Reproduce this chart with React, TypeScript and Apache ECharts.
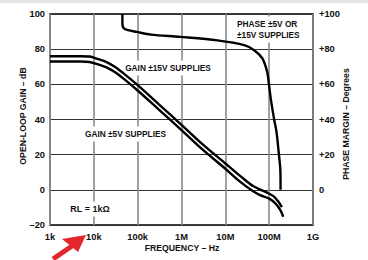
import React, { useEffect, useRef } from "react";
import * as echarts from "echarts";

// Frequency (Hz) and open-loop gain (dB), ±15V supplies
const gain15Freq = [1e3, 5e3, 8e3, 12e3, 20e3, 30e3, 50e3, 1e5, 3e5, 1e6, 3e6, 1e7, 2.2e7, 4.4e7, 8.9e7, 1.25e8, 1.6e8, 1.95e8];
const gain15 = [76, 76, 75.8, 74.5, 72.5, 70, 65.8, 59.5, 48.8, 37, 26, 15, 7.8, 2, -1.6, -3.6, -6.5, -9.8];

// ±5V supplies
const gain5Freq = [1e3, 5e3, 8e3, 12e3, 20e3, 30e3, 50e3, 1e5, 3e5, 1e6, 3e6, 1e7, 2.2e7, 4.4e7, 6.2e7, 1e8, 1.4e8, 1.8e8, 2.1e8];
const gain5 = [73, 73, 72.7, 71.5, 69.5, 67, 62.8, 56.5, 45.8, 34, 23, 12, 4.5, -1, -3, -5, -7.8, -11.5, -15.3];

// Phase margin (degrees)
const phaseFreq = [44.8e3, 44.9e3, 48e3, 60e3, 95e3, 2e5, 9.3e5, 6.6e6, 2.7e7, 4.55e7, 7e7, 9e7, 1.0e8, 1.1e8, 1.3e8, 1.47e8, 1.63e8, 1.8e8, 1.82e8];
const phase = [100, 94, 92, 90.8, 89.8, 88.3, 87, 85, 82.3, 79.4, 74.7, 67, 59, 51, 40, 33, 22.6, 11, 0];

const xTickLabels = ["1k", "10k", "100k", "1M", "10M", "100M", "1G"];
const yLeftLabels = ["–20", "0", "20", "40", "60", "80", "100"];
const yRightLabels = ["", "0", "+20", "+40", "+60", "+80", "+100"];

const FONT = "'Liberation Sans', Arial, sans-serif";

function pairs(xs: number[], ys: number[]) {
  return xs.map((x, i) => [x, ys[i]]);
}

export default function App() {
  const ref = useRef<HTMLDivElement>(null);
  useEffect(() => {
    if (!ref.current) return;
    const chart = echarts.init(ref.current, undefined, { renderer: "svg" });
    const labelStyle = { color: "#111", fontFamily: FONT, fontWeight: "bold" as const, fontSize: 9.3 };
    const lineStyle = { color: "#000", width: 2.4 };
    const annot = (text: string, x: number, y: number, size = 8.3, align = "center") => ({
      type: "text",
      x,
      y,
      z: 1,
      style: {
        text,
        fill: "#111",
        font: `bold ${size}px ${FONT}`,
        align,
        verticalAlign: "middle",
        backgroundColor: "#fff",
        padding: [2, 2],
        lineHeight: 11,
      },
    });
    chart.setOption({
      animation: false,
      backgroundColor: "#fff",
      grid: {
        left: 50,
        right: 55,
        top: 14,
        bottom: 35,
        show: true,
        borderColor: "#000",
        borderWidth: 1.5,
        containLabel: false,
      },
      xAxis: {
        type: "log",
        logBase: 10,
        min: 1e3,
        max: 1e9,
        axisLine: { show: false },
        axisTick: { show: false },
        minorTick: { show: false },
        axisLabel: {
          ...labelStyle,
          margin: 7,
          formatter: (v: number) => xTickLabels[Math.round(Math.log10(v)) - 3] ?? "",
        },
        splitLine: { show: true, lineStyle: { color: "#8a8a8a", width: 1.6 } },
      },
      yAxis: [
        {
          type: "value",
          min: -20,
          max: 100,
          interval: 20,
          axisLine: { show: false },
          axisTick: { show: false },
          axisLabel: {
            ...labelStyle,
            margin: 5,
            formatter: (v: number) => yLeftLabels[Math.round((v + 20) / 20)] ?? "",
          },
          splitLine: { show: true, lineStyle: { color: "#333", width: 1.2 } },
        },
        {
          type: "value",
          position: "right",
          min: -20,
          max: 100,
          interval: 20,
          axisLine: { show: false },
          axisTick: { show: false },
          axisLabel: {
            ...labelStyle,
            margin: 6,
            formatter: (v: number) => yRightLabels[Math.round((v + 20) / 20)] ?? "",
          },
          splitLine: { show: false },
        },
      ],
      series: [
        {
          type: "line",
          name: "GAIN ±15V",
          data: pairs(gain15Freq, gain15),
          smooth: 0.3,
          showSymbol: false,
          lineStyle,
          z: 3,
        },
        {
          type: "line",
          name: "GAIN ±5V",
          data: pairs(gain5Freq, gain5),
          smooth: 0.3,
          showSymbol: false,
          lineStyle,
          z: 3,
        },
        {
          type: "line",
          name: "PHASE",
          yAxisIndex: 1,
          data: pairs(phaseFreq, phase),
          smooth: 0.3,
          showSymbol: false,
          lineStyle,
          z: 3,
        },
      ],
      graphic: [
        { type: "rect", z: 0, shape: { x: 0, y: 0, width: 368, height: 3 }, style: { fill: "#e4e4e4" } },
        annot("GAIN ±15V SUPPLIES", 168, 68),
        annot("GAIN ±5V SUPPLIES", 125.5, 134),
        annot("PHASE ±5V OR\n±15V SUPPLIES", 235, 29.5, 8.3, "left"),
        annot("RL = 1kΩ", 90, 209, 9),
        {
          type: "text",
          x: 182,
          y: 248,
          style: { text: "FREQUENCY – Hz", fill: "#111", font: `bold 8.7px ${FONT}`, align: "center", verticalAlign: "middle" },
        },
        {
          type: "text",
          x: 23,
          y: 116,
          rotation: Math.PI / 2,
          style: { text: "OPEN-LOOP GAIN – dB", fill: "#111", font: `bold 8.7px ${FONT}`, align: "center", verticalAlign: "middle" },
        },
        {
          type: "text",
          x: 346,
          y: 124,
          rotation: Math.PI / 2,
          style: { text: "PHASE MARGIN – Degrees", fill: "#111", font: `bold 8.7px ${FONT}`, align: "center", verticalAlign: "middle" },
        },
        {
          type: "line",
          z: 10,
          shape: { x1: 53, y1: 259, x2: 72, y2: 246 },
          style: { stroke: "#e3262b", lineWidth: 5 },
        },
        {
          type: "polygon",
          z: 10,
          shape: { points: [[86, 235], [62, 239], [78, 252]] },
          style: { fill: "#e3262b" },
        },
      ],
    });
    return () => chart.dispose();
  }, []);
  return <div ref={ref} style={{ position: "fixed", left: 0, top: 0, width: 368, height: 260 }} />;
}
